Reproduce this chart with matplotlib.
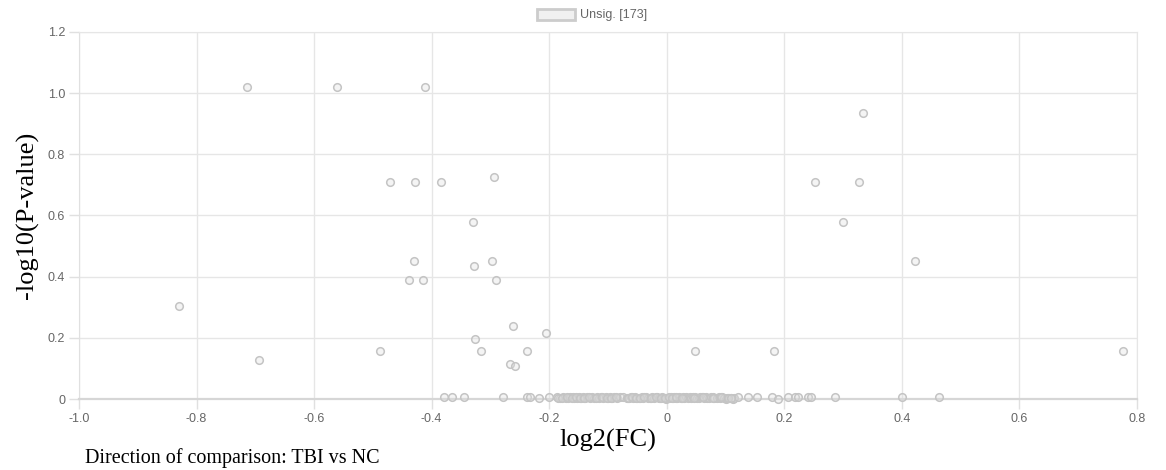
import matplotlib
matplotlib.use("Agg")
import matplotlib.pyplot as plt
from matplotlib.patches import Patch

# volcano plot, all points are "Unsig."
# scattered points (left side)
left_fc = [-0.714, -0.561, -0.412, -0.471, -0.429, -0.384, -0.294, -0.330,
           -0.430, -0.328, -0.298, -0.439, -0.415, -0.291, -0.830, -0.694,
           -0.488, -0.327, -0.316, -0.262, -0.267, -0.259, -0.238, -0.206]
left_p = [1.020, 1.020, 1.020, 0.710, 0.710, 0.710, 0.726, 0.579,
          0.451, 0.435, 0.451, 0.389, 0.389, 0.389, 0.304, 0.128,
          0.157, 0.196, 0.157, 0.239, 0.114, 0.108, 0.157, 0.216]

# scattered points (right side)
right_fc = [0.252, 0.327, 0.333, 0.300, 0.422, 0.777, 0.048, 0.182]
right_p = [0.710, 0.710, 0.935, 0.578, 0.451, 0.157, 0.157, 0.157]

# points sitting near zero
base_fc = [-0.379, -0.366, -0.345, -0.279, -0.238, -0.233, -0.218, -0.201,
           -0.187, -0.182, -0.176, -0.172, -0.168, -0.164, -0.160, -0.157,
           -0.153, -0.150, -0.146, -0.143, -0.139, -0.135, -0.131,
           -0.127, -0.124, -0.119, -0.115, -0.112, -0.108, -0.104, -0.100,
           -0.097, -0.093, -0.089, -0.085,
           -0.080, -0.075, -0.068, -0.064, -0.061, -0.057, -0.054, -0.050,
           -0.047, -0.043, -0.040, -0.036, -0.032, -0.029, -0.025, -0.021,
           -0.017, -0.014, -0.011, -0.008, -0.005, -0.002, 0.001, 0.004,
           0.007, 0.010, 0.012, 0.015, 0.018, 0.021, 0.024, 0.027,
           0.030, 0.033, 0.036, 0.039,
           0.042, 0.045, 0.048, 0.051, 0.054, 0.057, 0.060, 0.063,
           0.066, 0.069, 0.072, 0.075, 0.078, 0.081, 0.085, 0.088,
           0.091, 0.094, 0.097, 0.100, 0.103, 0.106, 0.109, 0.112, 0.114,
           0.122, 0.139, 0.153, 0.179, 0.190, 0.206, 0.218, 0.224,
           0.241, 0.245, 0.286, 0.401, 0.463,
           -0.185, -0.178, -0.170, -0.162, -0.155, -0.148, -0.141, -0.133,
           -0.121, -0.110, -0.102, -0.095, -0.087, -0.066, -0.059, -0.052,
           -0.045, -0.038, -0.027, -0.019, -0.009, -0.003, 0.003, 0.009,
           0.016, 0.026, 0.047, 0.062, 0.079, 0.093, 0.105, 0.110]
base_p = [0.006, 0.006, 0.006, 0.006, 0.006, 0.006, 0.004, 0.006,
          0.005, 0.003, 0.006, 0.004, 0.002, 0.005, 0.006, 0.003,
          0.004, 0.006, 0.002, 0.005, 0.003, 0.006, 0.004,
          0.005, 0.002, 0.006, 0.003, 0.005, 0.004, 0.006, 0.002,
          0.005, 0.003, 0.006, 0.004,
          0.006, 0.005, 0.004, 0.002, 0.006, 0.003, 0.005, 0.004,
          0.002, 0.006, 0.003, 0.005, 0.004, 0.002, 0.006, 0.003,
          0.005, 0.002, 0.004, 0.006, 0.003, 0.001, 0.004, 0.002,
          0.005, 0.003, 0.006, 0.002, 0.004, 0.005, 0.003, 0.006,
          0.002, 0.005, 0.004, 0.006,
          0.003, 0.005, 0.006, 0.004, 0.002, 0.006, 0.005, 0.003,
          0.006, 0.004, 0.002, 0.005, 0.006, 0.003, 0.004, 0.006,
          0.002, 0.005, 0.003, 0.001, 0.004, 0.002, 0.003, 0.001, 0.004,
          0.006, 0.006, 0.006, 0.006, 0.001, 0.006, 0.006, 0.006,
          0.006, 0.006, 0.006, 0.006, 0.006,
          0.004, 0.002, 0.005, 0.003, 0.006, 0.004, 0.002, 0.005,
          0.003, 0.006, 0.004, 0.002, 0.005, 0.003, 0.006, 0.004,
          0.002, 0.005, 0.003, 0.006, 0.004, 0.002, 0.005, 0.003,
          0.006, 0.004, 0.002, 0.005, 0.003, 0.006, 0.004, 0.002]

log2fc = left_fc + right_fc + base_fc
neglogp = left_p + right_p + base_p

x_ticks = [-1.0, -0.8, -0.6, -0.4, -0.2, 0, 0.2, 0.4, 0.6, 0.8]
x_labels = ["-1.0", "-0.8", "-0.6", "-0.4", "-0.2", "0", "0.2", "0.4", "0.6", "0.8"]
y_ticks = [0, 0.2, 0.4, 0.6, 0.8, 1.0, 1.2]
y_labels = ["0", "0.2", "0.4", "0.6", "0.8", "1.0", "1.2"]
legend_label = "Unsig. [%d]" % len(log2fc)

fig = plt.figure(figsize=(11.66, 4.70), dpi=100)
ax = fig.add_axes([79 / 1166, 1 - 399 / 470, (1137 - 79) / 1166, (399 - 32) / 470])

ax.scatter(log2fc, neglogp, s=30, facecolors=(0.88, 0.88, 0.88, 0.35),
           edgecolors="#c4c4c4", linewidths=1.1, zorder=3, clip_on=False)

ax.set_xlim(-1.0, 0.8)
ax.set_ylim(0, 1.2)
ax.set_xticks(x_ticks)
ax.set_xticklabels(x_labels)
ax.set_yticks(y_ticks)
ax.set_yticklabels(y_labels)
ax.grid(True, color="#e6e6e6", linewidth=1.0, zorder=0)
for side in ["top", "right"]:
    ax.spines[side].set_color("#e6e6e6")
ax.spines["left"].set_color("#e0e0e0")
ax.spines["bottom"].set_color("#d6d6d6")
ax.spines["bottom"].set_linewidth(1.6)
ax.tick_params(colors="#e0e0e0", labelcolor="#666666", length=7, width=1,
               labelsize=9, pad=3)
for lab in ax.get_xticklabels() + ax.get_yticklabels():
    lab.set_family("Liberation Sans")

xl = ax.set_xlabel("log2(FC)", family="Liberation Serif", fontsize=19)
xl.set_verticalalignment("center")
ax.xaxis.set_label_coords(0.5, (399 - 440) / 367)
yl = ax.set_ylabel("-log10(P-value)", family="Liberation Serif", fontsize=19)
yl.set_verticalalignment("center")
ax.yaxis.set_label_coords((27 - 79) / 1058, 0.5)

handle = Patch(facecolor="#f0f0f0", edgecolor="#cccccc", linewidth=2)
leg = fig.legend([handle], [legend_label], loc="center", bbox_to_anchor=(592 / 1166, 1 - 15 / 470),
                 frameon=False, handlelength=3.0, handleheight=1.0, handletextpad=0.4,
                 prop={"family": "Liberation Sans", "size": 9})
for t in leg.get_texts():
    t.set_color("#666666")

fig.text(85 / 1166, 1 - 448 / 470, "Direction of comparison: TBI vs NC",
         family="Liberation Serif", fontsize=14.5, va="top", ha="left")

fig.savefig("out.png", dpi=100)
